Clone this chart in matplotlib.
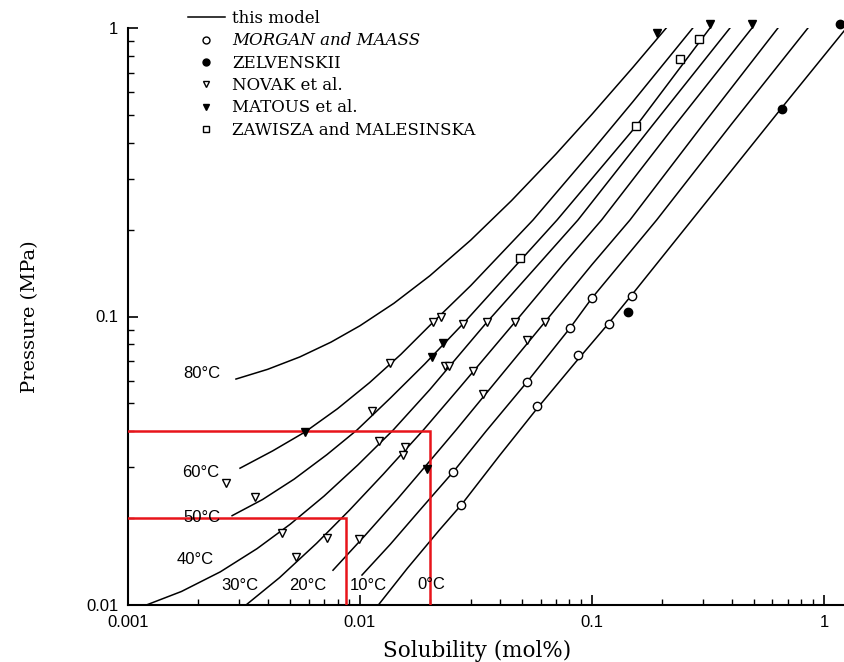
import matplotlib
matplotlib.use('Agg')
import matplotlib.pyplot as plt
from matplotlib.lines import Line2D
from matplotlib.ticker import FixedLocator, FixedFormatter, LogLocator, NullFormatter

# ---------------- data ----------------
t80_x = [0.00292, 0.0040, 0.0055, 0.0075, 0.010, 0.014, 0.020, 0.030, 0.045, 0.070, 0.100, 0.150, 0.209]
t80_p = [0.0607, 0.0656, 0.0724, 0.0815, 0.0929, 0.1111, 0.1384, 0.1839, 0.2522, 0.3659, 0.5024, 0.7299, 1.0]

t60_x = [0.00304, 0.0042, 0.0058, 0.0080, 0.0110, 0.0150, 0.0207, 0.030, 0.0557, 0.100, 0.150, 0.272]
t60_p = [0.0298, 0.0342, 0.0398, 0.0479, 0.0590, 0.0739, 0.0957, 0.1279, 0.216, 0.375, 0.555, 1.0]

t50_x = [0.00281, 0.0038, 0.0052, 0.0072, 0.0097, 0.0135, 0.019, 0.0278, 0.040, 0.0707, 0.155, 0.3226]
t50_p = [0.0204, 0.0232, 0.0273, 0.0332, 0.0404, 0.0521, 0.0684, 0.0943, 0.1303, 0.216, 0.457, 1.0]

t40_x = [0.0012, 0.0017, 0.0025, 0.0036, 0.0050, 0.0070, 0.0098, 0.0139, 0.020, 0.0353, 0.060, 0.087, 0.180, 0.3934]
t40_p = [0.0100, 0.01114, 0.01303, 0.01568, 0.01905, 0.02385, 0.0306, 0.0404, 0.0558, 0.0957, 0.1544, 0.216, 0.454, 1.0]

t30_x = [0.003226, 0.0045, 0.0065, 0.0090, 0.0126, 0.0188, 0.027, 0.0466, 0.075, 0.110, 0.220, 0.4895]
t30_p = [0.0100, 0.01244, 0.01636, 0.0213, 0.0284, 0.0405, 0.0569, 0.0957, 0.1512, 0.216, 0.444, 1.0]

t20_x = [0.00765, 0.0105, 0.0145, 0.0195, 0.026, 0.0339, 0.0627, 0.100, 0.1458, 0.300, 0.6334]
t20_p = [0.0132, 0.0174, 0.0233, 0.0308, 0.0405, 0.0525, 0.0957, 0.1513, 0.216, 0.4613, 1.0]

t10_x = [0.0102, 0.0135, 0.018, 0.0252, 0.035, 0.0525, 0.0804, 0.100, 0.190, 0.400, 0.853]
t10_p = [0.0127, 0.01622, 0.0212, 0.0289, 0.0401, 0.0593, 0.0912, 0.1159, 0.216, 0.465, 1.0]

t0_x = [0.0120, 0.016, 0.022, 0.0273, 0.040, 0.058, 0.087, 0.1184, 0.1487, 0.300, 0.659, 1.25]
t0_p = [0.0100, 0.0134, 0.0182, 0.0222, 0.0330, 0.0480, 0.0710, 0.0950, 0.1190, 0.2406, 0.530, 1.0]

curve_labels = ['80°C', '60°C', '50°C', '40°C', '30°C', '20°C', '10°C', '0°C']

morgan_x = [0.0252, 0.0273, 0.0525, 0.0579, 0.0804, 0.087, 0.100, 0.1184, 0.1487]
morgan_p = [0.0289, 0.0222, 0.0593, 0.0490, 0.0912, 0.0736, 0.1159, 0.0942, 0.1178]

zelvenskii_x = [0.1429, 0.659, 1.17]
zelvenskii_p = [0.1036, 0.524, 1.03]

novak_x = [0.00265, 0.00353, 0.00461, 0.0053, 0.0072, 0.0099, 0.01127, 0.01347, 0.01208,
           0.01563, 0.01532, 0.02064, 0.0223, 0.02325, 0.0242, 0.0278, 0.0307, 0.0339,
           0.0353, 0.0466, 0.0525, 0.0627]
novak_p = [0.0265, 0.0237, 0.0178, 0.0147, 0.0171, 0.0169, 0.0470, 0.0690, 0.0370,
           0.0353, 0.0331, 0.0957, 0.0996, 0.0674, 0.0674, 0.0942, 0.0647, 0.0539,
           0.0957, 0.0957, 0.0829, 0.0957]

matous_x = [0.00579, 0.01945, 0.0204, 0.0228, 0.1905, 0.323, 0.490]
matous_p = [0.0398, 0.0296, 0.0724, 0.0809, 0.961, 1.03, 1.03]

zawisza_x = [0.0489, 0.1548, 0.2394, 0.289]
zawisza_p = [0.1595, 0.457, 0.781, 0.916]

# red guide lines: (solubility, pressure)
guide1_x = [0.001, 0.020, 0.020]
guide1_p = [0.040, 0.040, 0.010]
guide2_x = [0.001, 0.0087, 0.0087]
guide2_p = [0.020, 0.020, 0.010]

x_ticks = [0.001, 0.01, 0.1, 1]
x_ticklabels = ['0.001', '0.01', '0.1', '1']
y_ticks = [0.01, 0.1, 1]
y_ticklabels = ['0.01', '0.1', '1']

legend_labels = ['this model', 'MORGAN and MAASS', 'ZELVENSKII', 'NOVAK et al.',
                 'MATOUS et al.', 'ZAWISZA and MALESINSKA']

# ---------------- figure ----------------
W, H = 844, 662
fig = plt.figure(figsize=(W / 100, H / 100), dpi=100)
fig.patch.set_facecolor('white')
ax = fig.add_axes([128 / W, 57 / H, 716 / W, 577 / H])
ax.set_xscale('log')
ax.set_yscale('log')
ax.set_xlim(0.001, 1.22)
ax.set_ylim(0.01, 1.0)

curves = [(t80_x, t80_p), (t60_x, t60_p), (t50_x, t50_p), (t40_x, t40_p),
          (t30_x, t30_p), (t20_x, t20_p), (t10_x, t10_p), (t0_x, t0_p)]
for cx, cp in curves:
    ax.plot(cx, cp, color='black', lw=1.1, zorder=2)

ax.plot(guide1_x, guide1_p, color='#e8141a', lw=1.8, zorder=3, solid_joinstyle='miter')
ax.plot(guide2_x, guide2_p, color='#e8141a', lw=1.8, zorder=3, solid_joinstyle='miter')

mkw = dict(linestyle='none', markersize=6, markeredgewidth=1.0, markeredgecolor='black',
           zorder=4, clip_on=False)
ax.plot(morgan_x, morgan_p, marker='o', markerfacecolor='white', **mkw)
ax.plot(zelvenskii_x, zelvenskii_p, marker='o', markerfacecolor='black', **mkw)
ax.plot(novak_x, novak_p, marker='v', markerfacecolor='white', **mkw)
ax.plot(matous_x, matous_p, marker='v', markerfacecolor='black', **mkw)
ax.plot(zawisza_x, zawisza_p, marker='s', markerfacecolor='white',
        **{**mkw, 'markersize': 5.5})

# temperature labels (axes fraction positions)
label_pos = [(0.1034, 0.402), (0.102, 0.2288), (0.1034, 0.1525), (0.0936, 0.078),
             (0.1564, 0.033), (0.2514, 0.033), (0.3352, 0.033), (0.4232, 0.0347)]
for txt, (fx, fy) in zip(curve_labels, label_pos):
    ax.text(fx, fy, txt, transform=ax.transAxes, ha='center', va='center',
            fontsize=12, family='Liberation Sans', color='black', zorder=5)

# axes styling
for s in ['top', 'right']:
    ax.spines[s].set_visible(False)
for s in ['left', 'bottom']:
    ax.spines[s].set_linewidth(1.5)

ax.xaxis.set_major_locator(FixedLocator(x_ticks))
ax.xaxis.set_major_formatter(FixedFormatter(x_ticklabels))
ax.yaxis.set_major_locator(FixedLocator(y_ticks))
ax.yaxis.set_major_formatter(FixedFormatter(y_ticklabels))
ax.xaxis.set_minor_locator(LogLocator(base=10, subs=range(2, 10)))
ax.yaxis.set_minor_locator(LogLocator(base=10, subs=range(2, 10)))
ax.xaxis.set_minor_formatter(NullFormatter())
ax.yaxis.set_minor_formatter(NullFormatter())
ax.tick_params(which='both', direction='in', top=False, right=False, color='black')
ax.tick_params(which='major', length=7, width=1.2, labelsize=12, pad=7)
ax.tick_params(which='minor', length=4, width=1.0)
for lab in ax.get_xticklabels() + ax.get_yticklabels():
    lab.set_family('Liberation Sans')

ax.set_xlabel('Solubility (mol%)', fontsize=15.5, family='DejaVu Serif', labelpad=7)
ax.xaxis.label.set_x(0.487)
ax.set_ylabel('Pressure (MPa)', fontsize=14, family='DejaVu Serif', labelpad=34)

# legend
handles = [
    Line2D([], [], color='black', lw=1.1),
    Line2D([], [], marker='o', linestyle='none', markersize=5, markerfacecolor='white', markeredgecolor='black'),
    Line2D([], [], marker='o', linestyle='none', markersize=5, markerfacecolor='black', markeredgecolor='black'),
    Line2D([], [], marker='v', linestyle='none', markersize=5, markerfacecolor='white', markeredgecolor='black'),
    Line2D([], [], marker='v', linestyle='none', markersize=5, markerfacecolor='black', markeredgecolor='black'),
    Line2D([], [], marker='s', linestyle='none', markersize=4.5, markerfacecolor='white', markeredgecolor='black'),
]
leg = fig.legend(handles, legend_labels, loc='upper left',
                 bbox_to_anchor=(188 / W, 1 - 10 / H), bbox_transform=fig.transFigure,
                 frameon=False, prop={'family': 'DejaVu Serif', 'size': 12},
                 handlelength=2.2, handletextpad=0.45, labelspacing=0.32,
                 borderpad=0, borderaxespad=0)
leg.get_texts()[1].set_fontstyle('italic')

fig.savefig('out.png', dpi=100, facecolor='white')
